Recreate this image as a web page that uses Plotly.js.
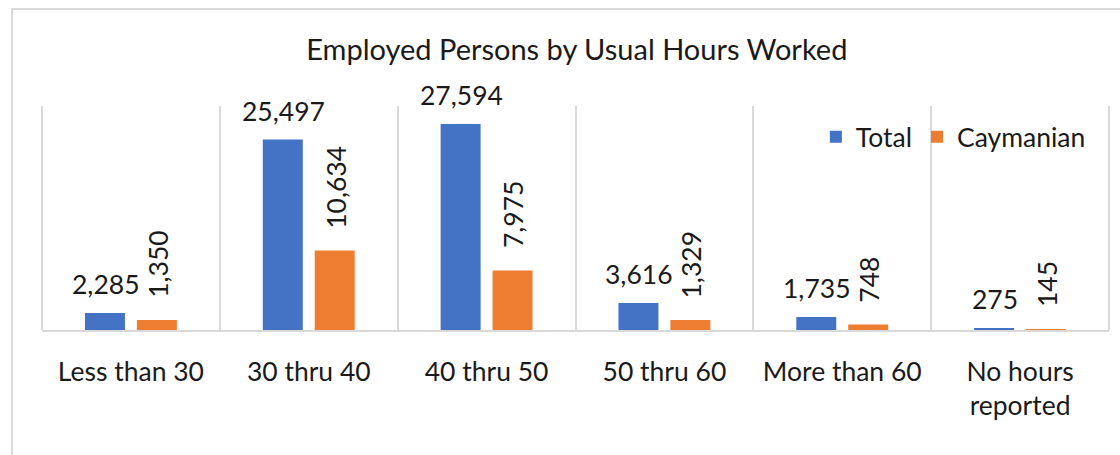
<!DOCTYPE html>
<html>
<head>
<meta charset="utf-8">
<script src="https://cdn.plot.ly/plotly-3.0.1.min.js"></script>
<style>
  html, body { margin: 0; padding: 0; background: #fff; overflow: hidden; }
  #frame { position: absolute; left: 11px; top: 8px; width: 1200px; height: 600px; border: 2px solid #d9d9d9; }
  #chart { position: absolute; left: 0; top: 0; width: 1120px; height: 455px; }
</style>
</head>
<body>
<div id="frame"></div>
<div id="chart"></div>
<script>
const categories = ["Less than 30", "30 thru 40", "40 thru 50", "50 thru 60", "More than 60", "No hours<br>reported"];
const totalValues = [2285, 25497, 27594, 3616, 1735, 275];
const caymanianValues = [1350, 10634, 7975, 1329, 748, 145];
const seriesNames = ["Total", "Caymanian"];
const chartTitle = "Employed Persons by Usual Hours Worked";

const FONT = "Lato, 'Noto Sans', sans-serif";
const TXT = "#1a1a1a";
const FS = 26.5;
const GRID = "#d9d9d9";
const fmt = v => v.toLocaleString("en-US");

const traces = [
  { type: "bar", name: seriesNames[0], x: categories, y: totalValues,
    marker: { color: "#4472C4" }, hoverinfo: "x+y" },
  { type: "bar", name: seriesNames[1], x: categories, y: caymanianValues,
    marker: { color: "#ED7D31" }, hoverinfo: "x+y" }
];

const annotations = [];
categories.forEach((c, i) => {
  annotations.push({ x: c, y: totalValues[i], xref: "x", yref: "y", text: fmt(totalValues[i]),
    showarrow: false, xanchor: "center", yanchor: "bottom", xshift: -25, yshift: 11,
    font: { family: FONT, size: FS, color: TXT } });
  annotations.push({ x: c, y: caymanianValues[i], xref: "x", yref: "y", text: fmt(caymanianValues[i]),
    showarrow: false, textangle: -90, xanchor: "center", yanchor: "bottom", xshift: 27, yshift: 20,
    font: { family: FONT, size: FS, color: TXT } });
});

const layout = {
  width: 1120, height: 455,
  margin: { l: 42, r: 11, t: 106, b: 125 },
  paper_bgcolor: "rgba(0,0,0,0)", plot_bgcolor: "rgba(0,0,0,0)",
  font: { family: FONT, size: FS, color: TXT },
  title: { text: chartTitle, x: 0.515, xanchor: "center", yref: "container", y: 1 - 50/455, yanchor: "middle",
    font: { family: FONT, size: 29, color: TXT } },
  barmode: "group", bargap: 0.416, bargroupgap: 0.23,
  showlegend: true,
  legend: { orientation: "h", x: 0.983, xanchor: "right", y: 0.861, yanchor: "middle",
    font: { family: FONT, size: FS, color: TXT }, bgcolor: "rgba(0,0,0,0)" },
  xaxis: { type: "category", tickson: "boundaries", showgrid: true, gridcolor: GRID, gridwidth: 2,
    showline: true, linecolor: GRID, linewidth: 2, ticks: "", ticklabelstandoff: 17,
    tickfont: { family: FONT, size: FS, color: TXT }, fixedrange: true },
  yaxis: { range: [0, 30000], showgrid: false, zeroline: false, showline: false, showticklabels: false,
    ticks: "", fixedrange: true },
  shapes: [0, 1].map(px => ({ type: "line", xref: "paper", yref: "paper", x0: px, x1: px, y0: 0, y1: 1,
    line: { color: GRID, width: 2 }, layer: "below" })),
  annotations: annotations
};

Plotly.newPlot("chart", traces, layout, { displayModeBar: false, staticPlot: true });
</script>
</body>
</html>
